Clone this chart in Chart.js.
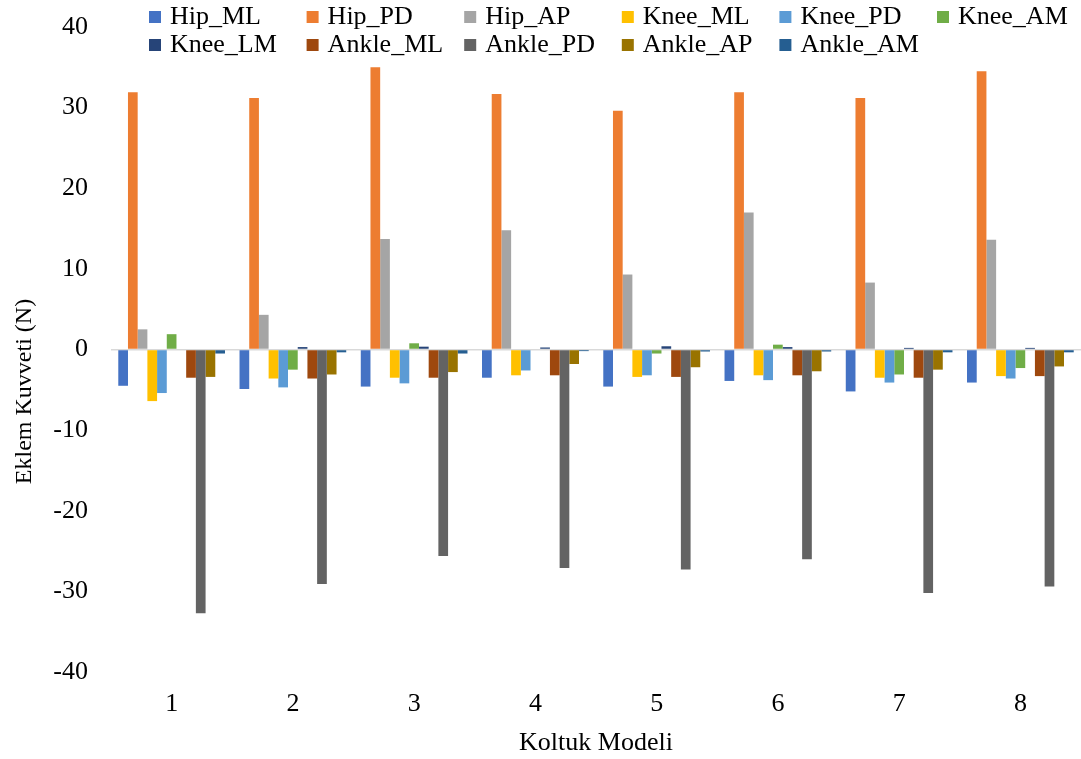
<!DOCTYPE html>
<html><head><meta charset="utf-8">
<script src="https://cdn.jsdelivr.net/npm/chart.js@4.4.0/dist/chart.umd.min.js"></script>
<style>html,body{margin:0;padding:0;background:#fff;} #wrap{width:1081px;height:759px;position:relative;}</style>
</head><body><div id="wrap"><canvas id="c"></canvas></div>
<script>
const categories = ['1','2','3','4','5','6','7','8'];
const seriesNames = ['Hip_ML','Hip_PD','Hip_AP','Knee_ML','Knee_PD','Knee_AM','Knee_LM','Ankle_ML','Ankle_PD','Ankle_AP','Ankle_AM'];
const hipML   = [-4.5, -4.9, -4.6, -3.5, -4.6, -3.9, -5.2, -4.1];
const hipPD   = [31.9, 31.2, 35.0, 31.7, 29.6, 31.9, 31.2, 34.5];
const hipAP   = [2.5, 4.3, 13.7, 14.8, 9.3, 17.0, 8.3, 13.6];
const kneeML  = [-6.4, -3.6, -3.5, -3.2, -3.4, -3.2, -3.5, -3.3];
const kneePD  = [-5.4, -4.7, -4.2, -2.6, -3.2, -3.8, -4.1, -3.6];
const kneeAM  = [1.9, -2.5, 0.77, 0.0, -0.5, 0.6, -3.1, -2.3];
const kneeLM  = [0.0, 0.3, 0.35, 0.25, 0.4, 0.3, 0.2, 0.2];
const ankleML = [-3.5, -3.6, -3.5, -3.2, -3.4, -3.2, -3.5, -3.3];
const anklePD = [-32.7, -29.1, -25.6, -27.1, -27.3, -26.0, -30.2, -29.4];
const ankleAP = [-3.4, -3.1, -2.8, -1.8, -2.2, -2.7, -2.5, -2.1];
const ankleAM = [-0.5, -0.35, -0.5, -0.2, -0.25, -0.25, -0.35, -0.35];
const yTicks = [-40, -30, -20, -10, 0, 10, 20, 30, 40];

const seriesValues = [hipML, hipPD, hipAP, kneeML, kneePD, kneeAM, kneeLM, ankleML, anklePD, ankleAP, ankleAM];
const colors = ['#4472C4','#ED7D31','#A5A5A5','#FFC000','#5B9BD5','#70AD47','#264478','#9E480E','#636363','#997300','#255E91'];

const FONT = '"Liberation Serif", "Times New Roman", serif';

const gridLegend = {
  id: 'gridLegend',
  afterDraw(chart) {
    const ctx = chart.ctx;
    ctx.save();
    ctx.font = '26px ' + FONT;
    ctx.textBaseline = 'middle';
    ctx.textAlign = 'left';
    chart.data.datasets.forEach((ds, i) => {
      const col = i % 6, row = Math.floor(i / 6);
      const tx = 170 + col * 157.6, ty = 17 + row * 28;
      ctx.fillStyle = ds.backgroundColor;
      ctx.fillRect(tx - 21, ty - 6, 12, 12);
      ctx.fillStyle = '#000';
      ctx.fillText(ds.label, tx, ty);
    });
    ctx.restore();
  }
};

new Chart(document.getElementById('c'), {
  type: 'bar',
  data: {
    labels: categories,
    datasets: seriesNames.map((n, i) => ({
      label: n,
      data: seriesValues[i],
      backgroundColor: colors[i],
      borderWidth: 0,
      categoryPercentage: 0.88,
      barPercentage: 1.0
    }))
  },
  options: {
    responsive: true,
    maintainAspectRatio: false,
    animation: false,
    layout: { padding: { left: 0, right: 0, top: 27, bottom: 0 } },
    plugins: { legend: { display: false }, tooltip: { enabled: false } },
    scales: {
      x: {
        grid: { display: false },
        border: { display: false },
        ticks: { color: '#000', font: { family: FONT, size: 26 }, padding: 9 },
        title: { display: true, text: 'Koltuk Modeli', color: '#000', font: { family: FONT, size: 26, lineHeight: 1 }, padding: { top: 0, bottom: 3 } },
        afterFit(s) { s.height = 87; s.paddingLeft = 0; s.paddingRight = 0; }
      },
      y: {
        min: -40, max: 40,
        afterBuildTicks(s) { s.ticks = yTicks.map(v => ({ value: v })); },
        grid: {
          drawTicks: false,
          color: c => (c.tick && c.tick.value === 0) ? '#D9D9D9' : 'rgba(0,0,0,0)',
          lineWidth: 1.5
        },
        border: { display: false },
        ticks: { color: '#000', font: { family: FONT, size: 26 }, padding: 23 },
        title: { display: true, text: 'Eklem Kuvveti (N)              ', color: '#000', font: { family: FONT, size: 24, lineHeight: 1 }, padding: { top: 13, bottom: 0 } },
        afterFit(s) { s.width = 111; s.paddingTop = 0; s.paddingBottom = 0; }
      }
    }
  },
  plugins: [gridLegend]
});
</script>
</body></html>
